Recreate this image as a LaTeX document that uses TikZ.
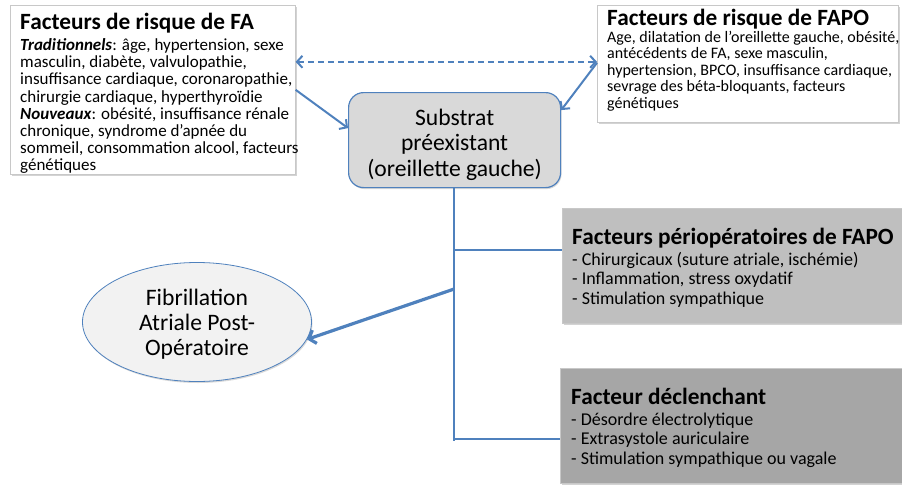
\documentclass[tikz,border=0pt]{standalone}
\usepackage{fontspec}
\setmainfont{Carlito}
\usetikzlibrary{arrows.meta,shapes.geometric,shadows,calc}
\definecolor{ablue}{HTML}{4F81BD}
\definecolor{subfill}{HTML}{D9D9D9}
\definecolor{ellfill}{HTML}{F2F2F2}
\definecolor{perifill}{HTML}{BFBFBF}
\definecolor{declfill}{HTML}{A6A6A6}
\definecolor{boxline}{HTML}{C8C8C8}
\tikzset{
  barb/.tip={Straight Barb[length=5.5pt,width=12pt,line width=2pt]},
  bigbarb/.tip={Straight Barb[length=6pt,width=14pt,line width=3.2pt]},
  panel/.style={draw=boxline, line width=0.6pt, anchor=north west, inner sep=0pt,
    drop shadow={shadow xshift=1.5pt, shadow yshift=-1.5pt, opacity=0.35}},
  paneltitle/.style={anchor=base west, inner sep=0pt, text=black,
    font=\fontsize{23.3}{28}\selectfont\bfseries},
  paneltext/.style={anchor=north west, align=left, inner sep=0pt, text=black},
  conn/.style={draw=ablue, line width=2pt, -barb},
  link/.style={draw=ablue, line width=2.2pt},
}
\begin{document}
\begin{tikzpicture}[x=1pt,y=-1pt]
\useasboundingbox (0,0) rectangle (902,485);
% panels
\node[panel, fill=white, minimum width=285pt, minimum height=169pt] (fa) at (10,5) {};
\node[panel, fill=white, minimum width=301pt, minimum height=117pt] (fapo) at (597,5) {};
\node[panel, fill=perifill, minimum width=345pt, minimum height=115pt] (peri) at (562,208) {};
\node[panel, fill=declfill, minimum width=347pt, minimum height=115pt] (decl) at (560,368) {};
% titles
\node[paneltitle] (fatitle) at (20,29.5) {Facteurs de risque de FA};
\node[paneltitle] (fapotitle) at (607,25.5) {Facteurs de risque de FAPO};
\node[paneltitle] (perititle) at (572,244.5) {Facteurs périopératoires de FAPO};
\node[paneltitle] (decltitle) at (571,404.5) {Facteur déclenchant};
% texts
\node[paneltext, font=\fontsize{17}{17.1}\selectfont] (fatext) at (20,38.6) {%
  \textbf{\textit{Traditionnels}}: âge, hypertension, sexe\\
  masculin, diabète, valvulopathie,\\
  insuffisance cardiaque, coronaropathie,\\
  chirurgie cardiaque, hyperthyroïdie\\
  \textbf{\textit{Nouveaux}}: obésité, insuffisance rénale\\
  chronique, syndrome d’apnée du\\
  sommeil, consommation alcool, facteurs\\
  génétiques};
\node[paneltext, font=\fontsize{16}{16.5}\selectfont] (fapotext) at (607,31) {%
  Age, dilatation de l’oreillette gauche, obésité,\\
  antécédents de FA, sexe masculin,\\
  hypertension, BPCO, insuffisance cardiaque,\\
  sevrage des béta-bloquants, facteurs\\
  génétiques};
\node[paneltext, font=\fontsize{18}{19.5}\selectfont] (peritext) at (572,252) {%
  - Chirurgicaux (suture atriale, ischémie)\\
  - Inflammation, stress oxydatif\\
  - Stimulation sympathique};
\node[paneltext, font=\fontsize{18}{19.5}\selectfont] (decltext) at (571,412.5) {%
  - Désordre électrolytique\\
  - Extrasystole auriculaire\\
  - Stimulation sympathique ou vagale};
% substrate
\node[draw=ablue, line width=1.2pt, fill=subfill, rounded corners=15pt, anchor=north west,
  minimum width=212pt, minimum height=95pt, align=center,
  font=\fontsize{23.6}{25.5}\selectfont,
  drop shadow={shadow xshift=1pt, shadow yshift=-1.5pt, opacity=0.3}] (sub) at (348,92)
  {\rule{0pt}{25pt}Substrat\\préexistant\\(oreillette gauche)};
% ellipse
\node[ellipse, draw=ablue, line width=0.8pt, fill=ellfill, minimum width=229pt, minimum height=119pt,
  align=center, font=\fontsize{23.6}{25}\selectfont,
  drop shadow={shadow xshift=1pt, shadow yshift=-1.5pt, opacity=0.3}] (fapoell) at (197,322)
  {\rule{0pt}{21pt}Fibrillation\\Atriale Post-\\Opératoire};
% connectors
\coordinate (dl) at ($(fa.east)+(0,-28)$);
\draw[draw=ablue, line width=2pt, dash pattern=on 6.5pt off 3.5pt, barb-barb]
  (dl) -- (dl -| fapo.west);
\draw[conn] (fa.east) -- ($(sub.west)+(0,-12)$);
\draw[conn] ($(fapo.west)+(0,-1)$) -- ($(sub.east)+(0,-30)$);
\coordinate (trunkend) at ($(sub.south)+(-1,253)$);
\draw[link] ($(sub.south)+(-1,0)$) -- (trunkend);
\draw[link, line width=2pt] (trunkend |- peri.west) ++(0,-15.5) coordinate (j1) -- (j1 -| peri.west);
\draw[link, line width=2pt] (trunkend) ++(0,-2) coordinate (j2) -- (j2 -| decl.west);
\coordinate (j3) at ($(trunkend)+(0,-152)$);
\draw[draw=ablue, line width=3.2pt, -bigbarb] (j3) -- (fapoell.-9);
\end{tikzpicture}
\end{document}
